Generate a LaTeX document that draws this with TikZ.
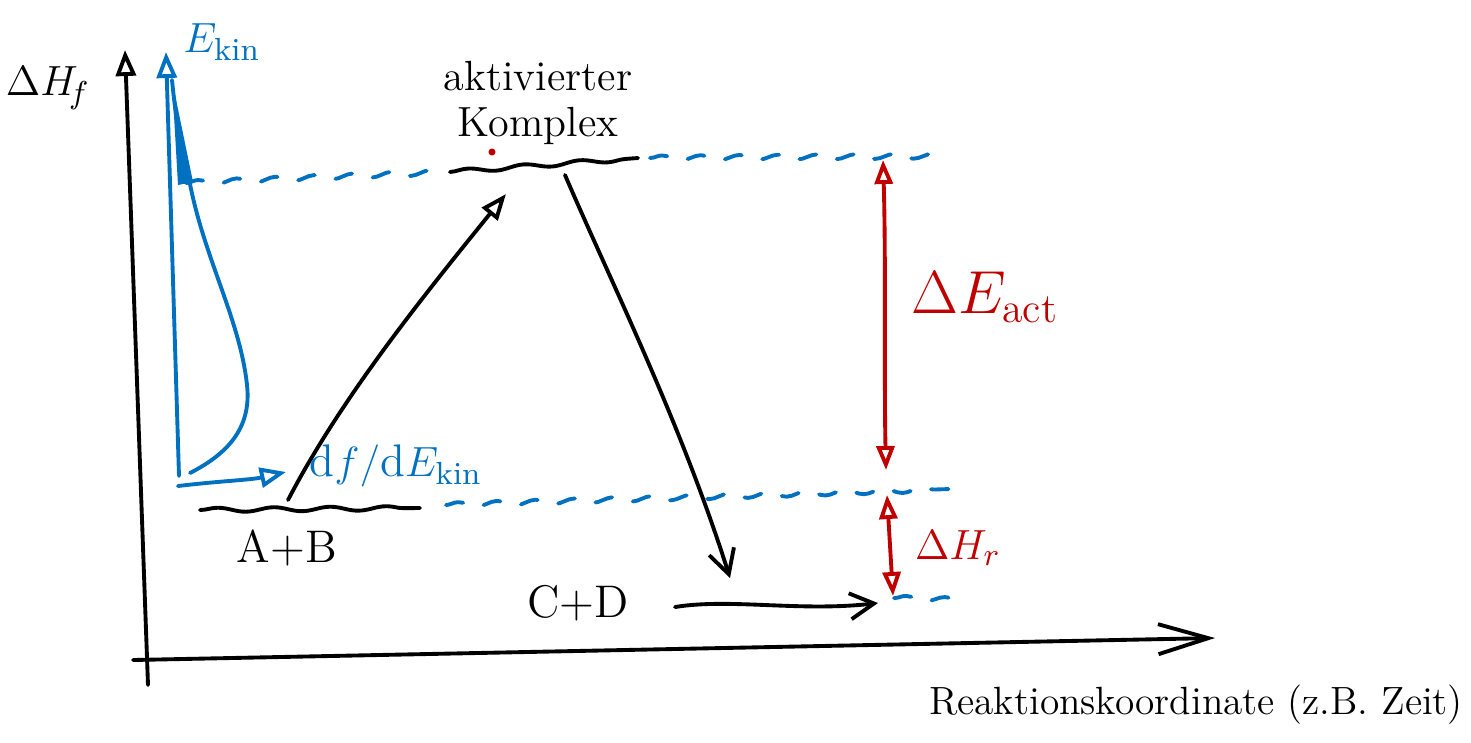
\documentclass[tikz,border=0pt]{standalone}
\usepackage{fontspec}
\usetikzlibrary{arrows.meta,decorations.pathmorphing}
\definecolor{inkblue}{RGB}{0,112,192}
\definecolor{inkred}{RGB}{192,0,0}
\begin{document}
\begin{tikzpicture}[x=0.01cm,y=-0.01cm, line cap=round, line join=round,
  ink/.style={line width=1.1pt},
  blueink/.style={ink, draw=inkblue},
  redink/.style={ink, draw=inkred},
  blackink/.style={ink, draw=black},
  opentip/.style={-{Triangle[open,length=2.6mm,width=2mm,line width=1.1pt]}},
  bothtip/.style={{Triangle[open,length=2.4mm,width=1.8mm,line width=1.1pt]}-{Triangle[open,length=2.4mm,width=1.8mm,line width=1.1pt]}},
  barbtip/.style={-{Straight Barb[length=2.4mm,width=2.6mm,line width=1.1pt]}},
  axistip/.style={-{Straight Barb[length=5mm,width=3mm,line width=1.1pt]}},
  dashwave/.style={blueink, dash pattern=on 5pt off 6pt, decorate, decoration={snake, amplitude=0.7pt, segment length=11pt}},
  levelwave/.style={blackink, decorate, decoration={snake, amplitude=0.6pt, segment length=16pt}},
  lbl/.style={inner sep=0pt, font=\fontsize{12}{14}\selectfont},
]
\useasboundingbox (0,0) rectangle (1471,742);

% axes
\coordinate (yb) at (148,685);
\coordinate (yt) at (125,50);
\coordinate (xl) at (133,660);
\coordinate (xr) at (1215,638);
\draw[blackink, opentip] (yb) -- (yt);
\draw[blackink, axistip] (xl) -- (xr);

% kinetic energy axis and distribution
\coordinate (eb) at (179,476);
\coordinate (et) at (166,52);
\draw[blueink, opentip] (eb) -- (et);
\coordinate (dt) at (172,80);
\coordinate (dm) at (190,184);
\coordinate (de) at (190,473);
\fill[inkblue] (dt) -- (193,182) -- (178,185) -- cycle;
\draw[blueink] (dt) .. controls (176,120) and (182,160) .. (dm)
  .. controls (205,260) and (240,320) .. (247,385)
  .. controls (252,430) and (225,455) .. (de);
\coordinate (fb1) at (178,486);
\coordinate (fb2) at (286,472);
\draw[blueink, opentip] (fb1) .. controls (220,481) and (250,480) .. (fb2);

% levels
\coordinate (ab1) at (200,510);
\coordinate (ab2) at (420,508);
\draw[levelwave] (ab1) -- (ab2);
\coordinate (k1) at (450,172);
\coordinate (k2) at (638,158);
\draw[levelwave] (k1) -- (k2);
\coordinate (cd1) at (675,607);
\coordinate (cd2) at (878,603);
\draw[blackink, barbtip] (cd1) .. controls (730,598) and (800,612) .. (cd2);

% blue dashed guide lines
\coordinate (u1) at (186,183);
\coordinate (u2) at (445,172);
\draw[dashwave] (u1) -- (u2);
\coordinate (u3) at (650,158);
\coordinate (u4) at (945,156);
\draw[dashwave] (u3) -- (u4);
\coordinate (l1) at (446,505);
\coordinate (l2) at (950,489);
\draw[dashwave] (l1) -- (l2);
\coordinate (c1) at (894,598);
\coordinate (c2) at (960,600);
\draw[dashwave] (c1) -- (c2);

% reaction arrows
\coordinate (r1) at (288,500);
\coordinate (r2) at (506,194);
\draw[blackink, opentip] (r1) .. controls (340,400) and (420,300) .. (r2);
\coordinate (r3) at (565,175);
\coordinate (r4) at (730,578);
\draw[blackink, barbtip] (r3) .. controls (610,280) and (680,420) .. (r4);

% red energy differences
\coordinate (ea1) at (883,160);
\coordinate (ea2) at (886,470);
\draw[redink, bothtip] (ea1) .. controls (886,260) and (884,380) .. (ea2);
\coordinate (hr1) at (887,495);
\coordinate (hr2) at (893,596);
\draw[redink, bothtip] (hr1) -- (hr2);
\fill[inkred] (492,152) circle (1pt);

% labels
\node[lbl, font=\fontsize{13}{15}\selectfont] (dhf) at (48,88) {$\Delta H_{\!f}$};
\node[lbl, text=inkblue, font=\fontsize{13}{15}\selectfont] (ekin) at (222,42) {$E_{\mathrm{kin}}$};
\node[lbl, align=center, font=\fontsize{12}{13}\selectfont] (komplex) at (538,103) {aktivierter\\Komplex};
\node[lbl, text=inkblue, font=\fontsize{13}{15}\selectfont] (dfde) at (396,466) {$\mathrm{d}f/\mathrm{d}E_{\mathrm{kin}}$};
\node[lbl, font=\fontsize{13}{15}\selectfont] (ab) at (287,548) {A+B};
\node[lbl, font=\fontsize{13}{15}\selectfont] (cd) at (578,603) {C+D};
\node[lbl, text=inkred, font=\fontsize{17}{19}\selectfont] (dea) at (985,297) {$\Delta E_{\mathrm{act}}$};
\node[lbl, text=inkred, font=\fontsize{13}{15}\selectfont] (dhr) at (958,548) {$\Delta H_{r}$};
\node[lbl, font=\fontsize{11.2}{13}\selectfont] (xlab) at (1196,705) {Reaktionskoordinate (z.B. Zeit)};
\end{tikzpicture}
\end{document}
